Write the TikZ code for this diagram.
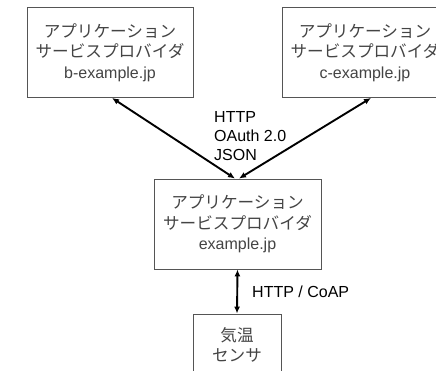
\documentclass[tikz,border=0pt]{standalone}
\usepackage{fontspec}
\newfontfamily\jpfont{Noto Sans CJK JP}
\setmainfont{Liberation Sans}
\usetikzlibrary{arrows.meta}
\definecolor{boxtext}{HTML}{444444}
\definecolor{boxline}{HTML}{555555}
\newcommand{\jp}[1]{{\jpfont\fontsize{16.6}{20}\selectfont #1}}
\newcommand{\lt}[1]{{\fontsize{16}{20}\selectfont #1}}
\begin{document}
\begin{tikzpicture}[x=1pt,y=-1pt,
  sbox/.style={draw=boxline, line width=0.9pt, fill=white, inner sep=0pt,
    text=boxtext, align=center,
    font=\fontsize{16}{20.5}\selectfont},
  link/.style={line width=1.9pt, {Latex[length=7pt,width=6pt]}-{Latex[length=7pt,width=6pt]}},
  lbl/.style={anchor=west, align=left, inner sep=0pt, font=\fontsize{16}{19}\selectfont}
]
\useasboundingbox (0,0) rectangle (436,370);
\node[sbox, minimum width=166pt, minimum height=90pt] (b) at (110,52.5)
  {\jp{アプリケーション}\\\jp{サービスプロバイダ}\\\lt{b-example.jp}};
\node[sbox, minimum width=166pt, minimum height=90pt] (c) at (365,52.5)
  {\jp{アプリケーション}\\\jp{サービスプロバイダ}\\\lt{c-example.jp}};
\node[sbox, minimum width=167pt, minimum height=90pt] (m) at (237.5,224)
  {\jp{アプリケーション}\\\jp{サービスプロバイダ}\\\lt{example.jp}};
\node[sbox, minimum width=88pt, minimum height=62pt] (s) at (237,345)
  {\jp{気温}\\\jp{センサ}};
\draw[link] ([xshift=2pt]b.south) -- ([xshift=-2.5pt]m.north);
\draw[link] ([xshift=1.5pt]m.north) -- ([xshift=6pt]c.south);
\draw[link] (m.south) -- (s.north);
\node[lbl] (l1) at (214,136) {HTTP\\OAuth 2.0\\JSON};
\node[lbl] (l2) at (252,292) {HTTP / CoAP};
\end{tikzpicture}
\end{document}
